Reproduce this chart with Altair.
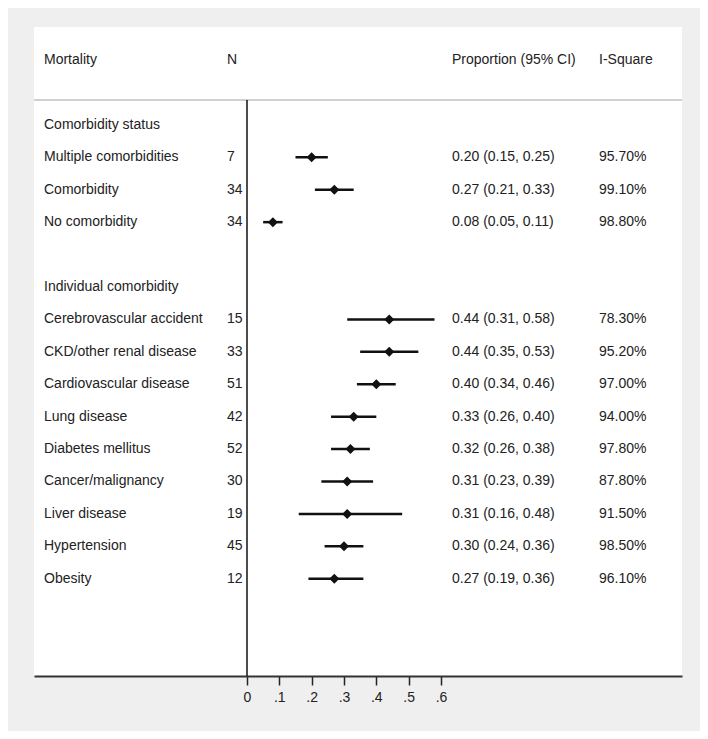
import altair as alt
import pandas as pd

labels = ["Comorbidity status", "Multiple comorbidities", "Comorbidity", "No comorbidity", "",
          "Individual comorbidity", "Cerebrovascular accident", "CKD/other renal disease",
          "Cardiovascular disease", "Lung disease", "Diabetes mellitus", "Cancer/malignancy",
          "Liver disease", "Hypertension", "Obesity"]
n_vals = ["", "7", "34", "34", "", "", "15", "33", "51", "42", "52", "30", "19", "45", "12"]
est = [None, 0.20, 0.27, 0.08, None, None, 0.44, 0.44, 0.40, 0.33, 0.32, 0.31, 0.31, 0.30, 0.27]
lo = [None, 0.15, 0.21, 0.05, None, None, 0.31, 0.35, 0.34, 0.26, 0.26, 0.23, 0.16, 0.24, 0.19]
hi = [None, 0.25, 0.33, 0.11, None, None, 0.58, 0.53, 0.46, 0.40, 0.38, 0.39, 0.48, 0.36, 0.36]
isq = ["", "95.70%", "99.10%", "98.80%", "", "", "78.30%", "95.20%", "97.00%", "94.00%",
       "97.80%", "87.80%", "91.50%", "98.50%", "96.10%"]
headers = ["Mortality", "N", "Proportion (95% CI)", "I-Square"]
ticks = [0, 0.1, 0.2, 0.3, 0.4, 0.5, 0.6]

rows = []
for i in range(len(labels)):
    ci = "" if est[i] is None else f"{est[i]:.2f} ({lo[i]:.2f}, {hi[i]:.2f})"
    rows.append(dict(row=i, label=labels[i], n=n_vals[i], est=est[i], lo=lo[i], hi=hi[i],
                     ci=ci, isq=isq[i]))
df = pd.DataFrame(rows)
pts = df.dropna(subset=["est"])

FONT = "Liberation Sans"
FS = 14
xs = alt.Scale(domain=[-0.6588, 1.3455], nice=False, zero=False)
ys = alt.Scale(domain=[-3.02, 17.0], reverse=True, nice=False, zero=False)

xaxis = alt.Axis(values=ticks, title=None, grid=False,
                 labelExpr="datum.value == 0 ? '0' : replace(format(datum.value, '.1f'), '0.', '.')",
                 domainColor="#333333", domainWidth=2, tickColor="#222222", tickWidth=1.5,
                 tickSize=9, labelFont=FONT, labelFontSize=14, labelColor="#222222",
                 labelPadding=5)

base = alt.Chart(df)

zero_line = alt.Chart(pd.DataFrame({"x": [0], "y": [-0.77], "y2": [17.0]})).mark_rule(
    color="#111111", strokeWidth=1.5).encode(
    x=alt.X("x:Q", scale=xs, axis=xaxis),
    y=alt.Y("y:Q", scale=ys, axis=None), y2="y2:Q")

header_line = alt.Chart(pd.DataFrame({"y": [-0.77]})).mark_rule(
    color="#d0d0d0", strokeWidth=2).encode(y=alt.Y("y:Q", scale=ys, axis=None))

ci_lines = alt.Chart(pts).mark_rule(color="#111111", strokeWidth=2.5).encode(
    x=alt.X("lo:Q", scale=xs), x2="hi:Q", y=alt.Y("row:Q", scale=ys))

diamonds = alt.Chart(pts).mark_point(shape="diamond", filled=True, color="#111111",
                                     size=100, opacity=1).encode(
    x=alt.X("est:Q", scale=xs), y=alt.Y("row:Q", scale=ys))

txt_kw = dict(font=FONT, fontSize=FS, color="#222222", align="left", baseline="middle")
label_t = base.mark_text(**txt_kw).encode(x=alt.value(10), y=alt.Y("row:Q", scale=ys), text="label:N")
n_t = base.mark_text(**txt_kw).encode(x=alt.value(193), y=alt.Y("row:Q", scale=ys), text="n:N")
ci_t = base.mark_text(**txt_kw).encode(x=alt.value(418), y=alt.Y("row:Q", scale=ys), text="ci:N")
isq_t = base.mark_text(**txt_kw).encode(x=alt.value(565), y=alt.Y("row:Q", scale=ys), text="isq:N")

hdf = pd.DataFrame({"h": headers, "px": [10, 193, 418, 565], "y": [-2.0] * 4})
head_t = alt.Chart(hdf).mark_text(**txt_kw).encode(
    x=alt.X("px:Q", scale=None), y=alt.Y("y:Q", scale=ys), text="h:N")

chart = alt.layer(header_line, zero_line, ci_lines, diamonds, label_t, n_t, ci_t, isq_t, head_t).properties(
    width=648, height=649,
    autosize=alt.AutoSizeParams(type="none"),
    padding={"left": 26, "top": 19, "right": 18, "bottom": 55},
    background="#efefef",
).configure_view(fill="white", stroke=None)

chart.save("out.html", embed_options={"renderer": "svg", "actions": False})
